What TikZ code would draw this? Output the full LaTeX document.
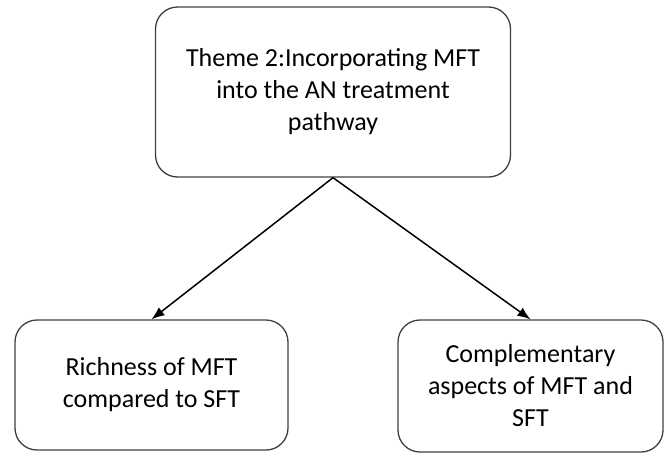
\documentclass[tikz,border=0pt]{standalone}
\usepackage{fontspec}
\setmainfont{Carlito}
\usetikzlibrary{arrows,arrows.meta,positioning,shapes}

\tikzset{
  themebox/.style={draw=black!75,line width=1.3pt,rounded corners=22pt,align=center,inner sep=0pt,
    font=\fontsize{26}{32}\selectfont},
  link/.style={-{Latex[length=13pt,width=10pt]},line width=1.5pt}
}

\begin{document}
\begin{tikzpicture}[x=1pt,y=-1pt]
    \useasboundingbox (0,0) rectangle (664,453);

    \node[themebox,minimum width=355pt,minimum height=170pt] (themetwo) at (333,92) {Theme 2:Incorporating MFT\\into the AN treatment\\pathway};

    \node[themebox,minimum width=273pt,minimum height=130pt] (richness) at (151.5,385) {Richness of MFT\\compared to SFT};
    \node[themebox,minimum width=265pt,minimum height=132pt] (complement) at (530.5,386) {Complementary\\aspects of MFT and\\SFT};

    \draw[link] (themetwo.south) -- (richness.north);
    \draw[link] (themetwo.south) -- (complement.north);
  \end{tikzpicture}
\end{document}
